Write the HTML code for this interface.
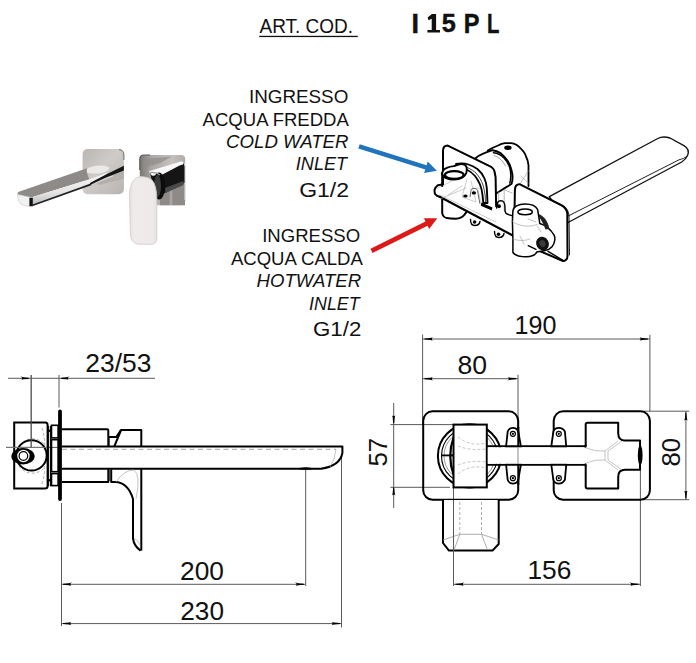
<!DOCTYPE html>
<html><head><meta charset="utf-8"><style>
html,body{margin:0;padding:0;background:#fff;width:696px;height:663px;overflow:hidden}
svg{display:block}
text{font-family:"Liberation Sans",sans-serif;fill:#111}
.it{font-style:italic}
</style></head><body>
<svg width="696" height="663" viewBox="0 0 696 663">
<rect width="696" height="663" fill="#fff"/>
<!-- header -->
<text x="259.5" y="32.8" font-size="20" textLength="93.5" lengthAdjust="spacingAndGlyphs">ART. COD.</text>
<rect x="259.2" y="35.8" width="98.6" height="1.3" fill="#111"/>
<g font-weight="bold" stroke="#111" stroke-width="0.45">
<text x="411.61" y="32.6" font-size="27.1" textLength="7.47" lengthAdjust="spacingAndGlyphs">I</text>
<text x="441.71" y="32.4" font-size="26.65" textLength="14.07" lengthAdjust="spacingAndGlyphs">5</text>
<text x="463.83" y="32.6" font-size="27.1" textLength="15.71" lengthAdjust="spacingAndGlyphs">P</text>
<text x="487.05" y="32.6" font-size="27.1" textLength="12.37" lengthAdjust="spacingAndGlyphs">L</text>
</g>
<path d="M431.9 14H436.1V30H440V32.6H427.4V30H431.7V18.8L428.5 20.2L427.6 17.5Z" fill="#111"/>

<!-- labels group 1 -->
<g font-size="17.5">
<text x="248.95" y="103.4" textLength="99.37" lengthAdjust="spacingAndGlyphs">INGRESSO</text>
<text x="202.6" y="125.8" textLength="146.28" lengthAdjust="spacingAndGlyphs">ACQUA FREDDA</text>
<text x="226.14" y="148.2" class="it" textLength="122.33" lengthAdjust="spacingAndGlyphs">COLD WATER</text>
<text x="295.87" y="170" class="it" textLength="51.1" lengthAdjust="spacingAndGlyphs">INLET</text>
<text x="299.2" y="196.7" font-size="21" textLength="49.87" lengthAdjust="spacingAndGlyphs">G1/2</text>
</g>
<g font-size="17.5">
<text x="262.18" y="242.2" textLength="97.93" lengthAdjust="spacingAndGlyphs">INGRESSO</text>
<text x="230.9" y="264.9" textLength="132.01" lengthAdjust="spacingAndGlyphs">ACQUA CALDA</text>
<text x="256.54" y="287.4" class="it" textLength="104.61" lengthAdjust="spacingAndGlyphs">HOTWATER</text>
<text x="309.08" y="309.9" class="it" textLength="50.5" lengthAdjust="spacingAndGlyphs">INLET</text>
<text x="313.04" y="336" font-size="21" textLength="48.28" lengthAdjust="spacingAndGlyphs">G1/2</text>
</g>

<!-- side view (bottom-left) -->
<g id="side">
<!-- dimension/extension lines -->
<g stroke="#5a5a5a" stroke-width="1" fill="none">
<path d="M8 378.3H155"/>
<path d="M31.2 375V447.6"/>
<path d="M59 375V407.5"/>
<path d="M61.5 503V626"/>
<path d="M61.5 584.3H305.7"/>
<path d="M61.5 623.6H341.5"/>
<path d="M305.7 469V586"/>
<path d="M341.5 454V627.5"/>
<path d="M6 447.4H62"/>
</g>
<g fill="#000">
<path d="M28.8 377.8L23.4 377.3L21.0 376.6L20.2 376.4A1.9 1.9 0 0 1 20.2 380.2L21.0 380.0L23.4 379.3L28.8 378.9Z"/>
<path d="M61.3 378.9L66.6 379.3L69.1 380.0L69.8 380.2A1.9 1.9 0 0 1 69.8 376.4L69.1 376.6L66.6 377.3L61.3 377.8Z"/>
<path d="M63.0 584.8L68.8 585.3L71.4 586.0L72.3 586.2A1.9 1.9 0 0 1 72.3 582.4L71.4 582.6L68.8 583.3L63.0 583.8Z"/>
<path d="M63.0 624.1L68.8 624.6L71.4 625.3L72.3 625.5A1.9 1.9 0 0 1 72.3 621.7L71.4 621.9L68.8 622.6L63.0 623.1Z"/>
<path d="M304.0 583.8L298.2 583.3L295.6 582.6L294.7 582.4A1.9 1.9 0 0 1 294.7 586.2L295.6 586.0L298.2 585.3L304.0 584.8Z"/>
<path d="M340.0 623.1L334.2 622.6L331.6 621.9L330.7 621.7A1.9 1.9 0 0 1 330.7 625.5L331.6 625.3L334.2 624.6L340.0 624.1Z"/>
</g>
<!-- left body -->
<g stroke="#000" stroke-width="2" fill="none">
<path d="M14.2 422.5H45.5Q47.6 422.5 47.6 425V486Q47.6 488.6 45 488.6H14.2Z"/>
</g>
<g stroke="#999" stroke-width="0.8" fill="none" stroke-dasharray="3 2">
<path d="M19 446A16 16 0 0 1 45 445"/>
<path d="M19 466A16 16 0 0 0 45 467"/>
<path d="M42 428Q46 440 44 452"/>
<path d="M42 484Q46 472 44 460"/>
</g>
<circle cx="31.5" cy="455.4" r="15.2" fill="none" stroke="#000" stroke-width="2"/>
<path d="M6 447.4H47" stroke="#777" stroke-width="1"/>
<ellipse cx="23" cy="456.3" rx="11.6" ry="8.2" fill="#000"/>
<circle cx="23.4" cy="456" r="6.2" fill="#fff"/>
<circle cx="23.4" cy="456" r="4.3" fill="none" stroke="#000" stroke-width="1.2"/>
<circle cx="23.4" cy="456" r="2.2" fill="#fff"/>
<path d="M31.2 375V447.6" stroke="#5a5a5a" stroke-width="1"/>
<g stroke="#000" stroke-width="1.1" fill="none">
<path d="M48.3 425.9V486.2M50.4 425.9V486.2"/>
</g>
<circle cx="49.2" cy="430.7" r="1.2" fill="#000"/>
<circle cx="49.2" cy="480.2" r="1.2" fill="#000"/>
<g stroke="#000" stroke-width="1.6" fill="none">
<rect x="51.5" y="425.3" width="6.6" height="12.6"/>
<rect x="51.5" y="439.7" width="6.6" height="32"/>
<rect x="51.5" y="473.6" width="6.6" height="12"/>
</g>
<path d="M60 411.5V499" stroke="#000" stroke-width="3.8" stroke-linecap="round"/>
<!-- blocks and spout -->
<g stroke="#000" stroke-width="2" fill="none" stroke-linejoin="round">
<path d="M62 429.2H107.3Q108.3 429.2 108.3 430.5V446.4"/>
<path d="M62 482H108.3V468.7"/>
<path d="M62 446.4H342.4V453Q340 466 321 468.7H62"/>
<path d="M108.3 437.1H116.3L120.9 430H141.3V446.4"/>
<path d="M120.9 430.5L114.3 446.4"/>
<path d="M111.2 469V481.9H116.4C123 482.3 130 488 133 499V538.5Q134 546 140.6 550.6"/>
<path d="M141.3 468.7V550.6"/>
</g>
<g stroke="#333" stroke-width="1" fill="none">
<path d="M109.3 437.5V446M109.3 469V481"/>
<path d="M110.6 469V481"/>
</g>
<path d="M296 468.7Q305.7 465.6 315 468.7Q305.7 471 296 468.7Z" fill="#000"/>
<path d="M62 449.3H336" stroke="#999" stroke-width="0.9" stroke-dasharray="5 3.5" fill="none"/>
<g stroke="#aaa" stroke-width="0.7" fill="none">
<path d="M116 482Q124 470 134 470Q141 475 136 499"/>
<path d="M336 449Q335 460 330 467"/>
<path d="M134 538Q138 540 140 545"/>
</g>
</g>

<!-- plan view (bottom-right) -->
<g id="plan">
<g stroke="#5a5a5a" stroke-width="1" fill="none">
<path d="M422.6 334.5V424M422.6 339H649.9M422.6 378.7H518M518 374.7V446"/>
<path d="M649.9 334.8V411.2M641 411.2H689.2M643 499.7H689.2M685.9 411.2V499.7"/>
<path d="M393.7 403V508M390.4 424.6H453.5M390.4 487.3H450"/>
<path d="M453.5 487.3V586M640.4 470V586M453.5 584.3H640.4"/>
</g>
<g fill="#000">
<path d="M424.5 339.6L430.3 340.0L432.9 340.7L433.8 340.9A1.9 1.9 0 0 1 433.8 337.1L432.9 337.3L430.3 338.0L424.5 338.4Z"/>
<path d="M648.0 338.4L642.2 338.0L639.6 337.3L638.7 337.1A1.9 1.9 0 0 1 638.7 340.9L639.6 340.7L642.2 340.0L648.0 339.6Z"/>
<path d="M424.5 379.2L430.3 379.7L432.9 380.4L433.8 380.6A1.9 1.9 0 0 1 433.8 376.8L432.9 377.0L430.3 377.7L424.5 378.1Z"/>
<path d="M516.2 378.1L510.4 377.7L507.8 377.0L506.9 376.8A1.9 1.9 0 0 1 506.9 380.6L507.8 380.4L510.4 379.7L516.2 379.2Z"/>
<path d="M394.2 423.2L394.7 417.6L395.4 415.0L395.6 414.2A1.9 1.9 0 0 1 391.8 414.2L392.0 415.0L392.7 417.6L393.1 423.2Z"/>
<path d="M393.1 487.5L392.7 493.1L392.0 495.6L391.8 496.4A1.9 1.9 0 0 1 395.6 496.4L395.4 495.6L394.7 493.1L394.2 487.5Z"/>
<path d="M685.4 412.5L684.9 418.2L684.2 420.7L684.0 421.6A1.9 1.9 0 0 1 687.8 421.6L687.6 420.7L686.9 418.2L686.4 412.5Z"/>
<path d="M686.4 498.5L686.9 492.8L687.6 490.3L687.8 489.4A1.9 1.9 0 0 1 684.0 489.4L684.2 490.3L684.9 492.8L685.4 498.5Z"/>
<path d="M455.4 584.8L461.2 585.3L463.8 586.0L464.7 586.2A1.9 1.9 0 0 1 464.7 582.4L463.8 582.6L461.2 583.3L455.4 583.8Z"/>
<path d="M638.6 583.8L632.8 583.3L630.2 582.6L629.3 582.4A1.9 1.9 0 0 1 629.3 586.2L630.2 586.0L632.8 585.3L638.6 584.8Z"/>
</g>
<!-- boxes -->
<g stroke="#000" stroke-width="2" fill="none" stroke-linejoin="round">
<rect x="423.2" y="411.3" width="95" height="88.5" rx="9.5"/>
<rect x="553.7" y="411.3" width="96.2" height="88.5" rx="9.5"/>
</g>
<!-- circles behind left valve -->
<g fill="none" stroke="#000">
<circle cx="469.5" cy="455.9" r="31.6" stroke-width="2"/>
<circle cx="469.5" cy="455.9" r="28" stroke-width="1.1"/>
<circle cx="469.5" cy="455.9" r="25.5" stroke-width="0.6" stroke="#555"/>
<path d="M453.5 437.5Q447 456 453.5 474.5" stroke-width="2.2"/>
<path d="M441 455.4H454" stroke-width="1.8"/>
</g>
<!-- stub below -->
<g stroke="#000" stroke-width="2" fill="#fff" stroke-linejoin="round">
<path d="M443 500V543L449 550.6H492.5L498.7 544V500"/>
</g>
<g stroke="#999" stroke-width="0.8" fill="none">
<path d="M443 540L459.8 534.3H481.5L498.7 540"/>
<path d="M459.8 534.3L454 550M481.5 534.3L487.5 550"/>
</g>
<path d="M459.8 502V534M481.5 502V534" stroke="#999" stroke-width="0.8" stroke-dasharray="3 2"/>
<path d="M453.5 500V586" stroke="#5a5a5a" stroke-width="1"/>
<!-- inner rect left -->
<rect x="453.5" y="424.6" width="33.3" height="62.8" fill="#fff" stroke="#000" stroke-width="2"/>
<path d="M450 455.4H454" stroke="#000" stroke-width="1.8"/>
<!-- ears -->
<g stroke="#000" stroke-width="1.8" fill="#fff" stroke-linejoin="round">
<path d="M506 447L507.7 431.5Q509 427.8 512.9 427.8Q516.8 427.8 518.3 431.5L521 447Z"/>
<path d="M506 464L507.7 479.8Q509 483.6 512.9 483.6Q516.8 483.6 518.3 479.8L521 464Z"/>
<path d="M551.2 447L553.4 431.5Q554.6 427.8 558.8 427.8Q562.8 427.8 564.9 431.5L566.3 447Z"/>
<path d="M551.2 464L553.4 479.8Q554.6 483.6 558.8 483.6Q562.8 483.6 564.9 479.8L566.3 464Z"/>
</g>
<g stroke="#000" stroke-width="1.2" fill="#fff">
<circle cx="512.9" cy="433.8" r="2.5"/>
<circle cx="512.9" cy="478.2" r="2.5"/>
<circle cx="558.8" cy="433.8" r="2.5"/>
<circle cx="558.8" cy="478.2" r="2.5"/>
</g>
<g fill="#000">
<circle cx="512.9" cy="433.8" r="1.1"/>
<circle cx="512.9" cy="478.2" r="1.1"/>
<circle cx="558.8" cy="433.8" r="1.1"/>
<circle cx="558.8" cy="478.2" r="1.1"/>
</g>
<path d="M518.3 427V446M518.3 465V485" stroke="#000" stroke-width="2"/>
<!-- cross shape right -->
<path d="M585.7 446.3V424.5Q585.7 422.8 587.5 422.8H618.2V433Q618.2 440.6 625 440.6H640V469.8H625Q618.2 469.8 618.2 477V488.5H587.5Q585.7 488.5 585.7 486.8V465" fill="#fff" stroke="#000" stroke-width="2" stroke-linejoin="round"/>
<!-- bar -->
<path d="M486.8 446.3H586.5M486.8 464.8H586.5" stroke="#000" stroke-width="2"/>
<rect x="487.8" y="447.3" width="97.8" height="16.5" fill="#fff"/>
<path d="M518 447V464" stroke="#888" stroke-width="1"/>
<ellipse cx="640.2" cy="455.3" rx="2.4" ry="10" fill="#000"/>
<path d="M583.5 446.3Q585.7 446.3 585.7 444V447.3Z M583.5 464.8Q585.7 464.8 585.7 467V463.8Z" fill="#000" stroke="#000" stroke-width="1"/>
<!-- hidden lines -->
<g stroke="#aaa" stroke-width="0.7" fill="none" stroke-dasharray="3 2">
<path d="M458 437Q470 447 486 443"/>
<path d="M458 474Q470 464 486 468"/>
<path d="M458 446Q470 451 486 449"/>
<path d="M458 465Q470 460 486 462"/>
</g>
<g stroke="#aaa" stroke-width="0.7" fill="none">
<path d="M586 448Q596 452 605 451L618 441"/>
<path d="M586 463Q596 459 605 460L618 470"/>
<path d="M605 451V460M608 451V460"/>
<path d="M608 451L622 441M608 460L622 470"/>
</g>
</g>

<!-- product photo -->
<defs>
<linearGradient id="gPlate1" x1="0" y1="0" x2="1" y2="1">
<stop offset="0" stop-color="#b9b5b3"/><stop offset="0.45" stop-color="#cfcbc9"/><stop offset="1" stop-color="#b7b3b1"/>
</linearGradient>
<linearGradient id="gPlate2" x1="0" y1="0" x2="1" y2="0">
<stop offset="0" stop-color="#7a7674"/><stop offset="0.25" stop-color="#aaa6a4"/><stop offset="0.7" stop-color="#c4c0be"/><stop offset="1" stop-color="#b0acaa"/>
</linearGradient>
<linearGradient id="gLever" x1="0" y1="0" x2="1" y2="0">
<stop offset="0" stop-color="#e2dfde"/><stop offset="0.15" stop-color="#eeebea"/><stop offset="0.85" stop-color="#edeae9"/><stop offset="1" stop-color="#e4e1e0"/>
</linearGradient>
<linearGradient id="gFront" x1="0" y1="0" x2="0" y2="1">
<stop offset="0" stop-color="#f4f3f3"/><stop offset="0.6" stop-color="#e6e5e5"/><stop offset="1" stop-color="#bdbbbb"/>
</linearGradient>
</defs>
<g id="photo">
<!-- spout wall plate -->
<rect x="82.6" y="149" width="41.3" height="45.3" rx="5" fill="url(#gPlate1)"/>
<path d="M119 149.6Q123.9 150 123.9 155V160" fill="none" stroke="#6f6b69" stroke-width="1"/>
<path d="M92 181L123.9 170V179Q110 182 100 185Z" fill="#b3afad"/>
<path d="M95 183L113 175.7" stroke="#e0dedd" stroke-width="1.2"/>
<ellipse cx="97.5" cy="169.6" rx="12" ry="3.8" transform="rotate(-6 97.5 169.6)" fill="#ebe9e8"/>
<!-- spout -->
<path d="M17.5 194.5Q17 192.3 20.3 191.2L87 168.2Q86 173 89.5 179.2L31 197.5Z" fill="#8d8a88"/>
<path d="M31 197.5L89.5 179.2L107 172.8L106 174.5L90.5 183.2L33 205Z" fill="url(#gFront)"/>
<path d="M17.5 194.5L31 197.5L31.5 206.3Q24 206.5 20 203.5Q18 201.5 17.5 194.5Z" fill="#f2f1f1" stroke="#c9c7c7" stroke-width="0.6"/>
<rect x="29.4" y="197.8" width="3.4" height="8.4" fill="#111"/>
<path d="M32 205.5L91 184.3" stroke="#222" stroke-width="1.8" fill="none"/>
<path d="M90 183L106.5 174.3L123.9 165.7V170.4L106 177.6L90 184.9Z" fill="#141414"/>
<!-- mixer wall plate -->
<rect x="139.8" y="155" width="45.4" height="50.3" rx="4" fill="url(#gPlate2)"/>
<path d="M139.8 170V159Q139.8 155 144 155H150" fill="none" stroke="#5e5a58" stroke-width="1.2"/>
<path d="M143 159L172 156.5L160 163L143 168Z" fill="#8f8b89" opacity="0.7"/>
<path d="M160 192L185 184V205.3H160Z" fill="#8e8a88"/>
<rect x="169.6" y="190" width="2.8" height="15" fill="#a8a5a4"/>
<path d="M181 163Q185.2 163 185.2 168V200" fill="none" stroke="#e6e4e4" stroke-width="1.4"/>
<!-- mixer cylinder -->
<path d="M150 172L181.4 161.8Q184.5 163 184.5 167V183L165 193L155 197Z" fill="#151515"/>
<path d="M148.8 171.2L181.4 161.2Q184 161.8 183 164.5L179.6 165.4L161.5 174.9L152 175.8Z" fill="#f7f7f7"/>
<path d="M165 188L183.5 181V185L165.5 193Z" fill="#4a4a4a"/>
<ellipse cx="159" cy="186" rx="6.2" ry="13.4" fill="#0c0c0c"/>
<ellipse cx="157.5" cy="186" rx="3.5" ry="11" fill="#3a3a3a"/>
<path d="M150 172.5Q156 171.5 160 175" stroke="#9a9a9a" stroke-width="1.2" fill="none"/>
<!-- lever -->
<path d="M129.5 195Q129.8 185 133 181Q136 176.6 141 176.6Q148 176.8 152 180Q156.5 185 156.8 198V238Q156.8 244.3 150.5 244.3H139Q134 244 131.5 240Q130.5 237 130.3 232Z" fill="url(#gLever)" stroke="#cfcccb" stroke-width="0.8"/>
</g>

<!-- arrows -->
<path d="M358.3 148.5 L425.3 169.4 L424.1 173.0 L436.9 170.7 L427.7 161.5 L426.6 165.2 L359.7 144.3Z" fill="#1f74bb"/>
<path d="M372.5 252.9 L427.6 225.7 L429.2 229.0 L437.3 218.3 L423.9 218.2 L425.5 221.6 L370.5 248.7Z" fill="#dc1a1a"/>

<!-- perspective view -->
<g id="persp" stroke-linejoin="round" stroke-linecap="round">
<!-- spout -->
<path d="M549.3 196.6L657.8 138.5C661 136.8 666 136.8 670 138L683.9 145.6C688 148 689 152 687.5 155.5C686 159 684 160.5 681.7 162L568 222.5Z" fill="#fff" stroke="#111" stroke-width="1.35"/>
<path d="M567.8 216.2L679 159.8C682 159 685.5 158 687.3 156" fill="none" stroke="#222" stroke-width="1"/>
<!-- valve body dome (back) -->
<path d="M487.8 150.6C492 148 495 146.5 498.1 145.5C500 144.3 502 143.3 505 143.1H511.2C514.5 143.4 517.5 145 519.6 147.4C523 150.5 525.2 153.5 526.1 156.7C527.6 159.5 528.3 162 528.5 165.1V186H500Z" fill="#fff"/>
<path d="M487.8 150.6C492 148 495 146.5 498.1 145.5C500 144.3 502 143.3 505 143.1H511.2C514.5 143.4 517.5 145 519.6 147.4C523 150.5 525.2 153.5 526.1 156.7C527.6 159.5 528.3 162 528.5 165.1V186" fill="none" stroke="#000" stroke-width="1.8"/>
<ellipse cx="507.9" cy="147.8" rx="3.7" ry="2.2" fill="#000"/>
<path d="M528.3 171L520 184M521 176L528.3 183" stroke="#999" stroke-width="0.6" fill="none"/>
<!-- cartridge cylinder -->
<path d="M475.5 158.2Q480 154.2 492.5 150.2C496 150.5 498.5 151.8 500.9 153.4C503.5 155.5 505.5 157.8 507.4 160.5C509.3 163.3 510.5 166 511.2 168.9C512 171.8 512.6 174.5 512.6 177.3C512.5 179.8 512.2 182 511.6 183.8C509.5 185.5 507.5 186.5 505.5 187.6L498.1 192.3L494 195Z" fill="#fff" stroke="#000" stroke-width="1.9"/>
<path d="M493.5 152.8C498 153.2 501.5 155.5 504 158C506.5 160.5 508.3 163.5 509.5 166.8C510.5 170 511 173 510.8 176.5C510.7 179 510.4 181 509.8 183" fill="none" stroke="#000" stroke-width="1.5"/>
<path d="M494 155.5C499 157 503 161 505.5 166" fill="none" stroke="#777" stroke-width="0.7"/>
<path d="M498.6 192V203M504.2 190V215M505.4 190.1L512.2 193.1" stroke="#999" stroke-width="0.7" fill="none"/>
<!-- left plate -->
<path d="M443 151Q443 145.6 447.8 145.6L488.6 165.7Q493.9 168 494.5 171.5L495.6 177.3L496.2 210H443Z" fill="#fff" stroke="#000" stroke-width="2"/>
<!-- right plate -->
<path d="M514.9 190Q514.9 184.4 519.5 184.2L561 205Q567 208 567.3 214L567.5 256Q567.3 260.8 563 261L514 240Z" fill="#fff" stroke="#000" stroke-width="2"/>
<path d="M564.5 206.8Q568.5 209.5 569 215L569.5 255" fill="none" stroke="#000" stroke-width="0.9"/>
<!-- cold inlet pipe (lower) -->
<path d="M442.2 195V213C442.5 215.5 444.5 217.5 446.8 218.1C450 218.8 453 218.8 455.9 218.8C459.5 218.5 462.5 217 464.3 214.9L466.2 212.3" fill="#fff" stroke="#000" stroke-width="2"/>
<!-- manifold -->
<path d="M442.2 184.5L437.8 185.2C435.5 187 434.5 188.5 434.5 190.3C434.5 192 434.7 193.5 435.2 194.2C436.5 195.8 438 196.5 439.7 196.8L519.2 238.8L514 216L497 207.5Z" fill="#fff" stroke="none"/>
<path d="M442.2 184.5L437.8 185.2C435.5 187 434.5 188.5 434.5 190.3C434.5 192 434.7 193.5 435.2 194.2C436.5 195.8 438 196.5 439.7 196.8" fill="none" stroke="#000" stroke-width="2"/>
<path d="M439.7 196.8L519.2 238.8" fill="none" stroke="#000" stroke-width="2.2"/>
<path d="M440 195L496 222M437 188.5L452 181" fill="none" stroke="#aaa" stroke-width="0.6"/>
<!-- band arc -->
<path d="M456 164C462 162.5 470 164 477.4 169C481 172 483 175 484.5 178.5C486 182 486.5 185 486.8 188L487.5 203L483.3 203L482.5 195C482 190 481 187 480 184.5C478.5 181 477 178.5 475 176C472 172.5 469 170.5 465.6 169Z" fill="#fff" stroke="#000" stroke-width="1.9"/>
<path d="M461 166C467 166.5 472 169.5 476 173C479 176.5 481.5 180.5 483 185C484 188.5 484.8 192 485.2 196L485.5 202" fill="none" stroke="#333" stroke-width="0.9"/>
<!-- cold inlet top -->
<path d="M442.2 173V186" fill="none" stroke="#000" stroke-width="2"/>
<path d="M442.2 174C442.2 171 444 169 446.7 167.9C449 166.8 451.5 166.3 453.8 166.1C456 165.5 458 164.5 460 164.2C463 163.8 465.5 164.5 466.5 167C467 169 466.8 171 466.3 173C465 177 460 179.5 454.3 179.5C448 179.5 442.5 177.5 442.2 174Z" fill="#fff" stroke="#000" stroke-width="1.9"/>
<ellipse cx="454.3" cy="175" rx="9.4" ry="3.9" fill="#fff" stroke="#000" stroke-width="2.4"/>
<!-- inner details on manifold near cold -->
<g stroke="#aaa" stroke-width="0.6" fill="none">
<path d="M467 179L462 197L476 202L471 181"/>
<path d="M448 195L462 186M440 199L466 188"/>
<path d="M478 190L481 203M470 189L480 188"/>
</g>
<ellipse cx="465.4" cy="196" rx="2.2" ry="1.6" fill="#000"/>
<ellipse cx="473.9" cy="192.9" rx="2.2" ry="1.6" fill="#000"/>
<path d="M470.1 196.8L471 190.5C472 187.5 476 187.5 477.5 190.5L479.8 203.3" fill="none" stroke="#555" stroke-width="0.9"/>
<path d="M481.4 202.6L492.5 207.4L491.8 210.5L480.8 205.8Z" fill="#000"/>
<!-- ear near right plate -->
<path d="M496.5 208L497.8 202.2C498.8 200.5 502.5 200 504 202.5C504.8 204 505 206 505 208L505 211.2C505.5 213 506.5 214 507.6 214.3L512.9 215.8" fill="none" stroke="#000" stroke-width="1.4"/>
<circle cx="498.9" cy="206.3" r="2" fill="#000"/>
<!-- lugs under manifold -->
<path d="M470.5 219.5C470.5 223.5 472.5 225.5 475 225.5C477.5 225.5 479.5 224 480 221.5" fill="#fff" stroke="#000" stroke-width="1.4"/>
<circle cx="474.6" cy="222" r="1.8" fill="#000"/>
<path d="M494.5 231.5C494.5 235.5 496.5 237.5 499 237.5C501.5 237.5 503.5 236 504 233.5" fill="#fff" stroke="#000" stroke-width="1.4"/>
<circle cx="498.5" cy="234.2" r="1.8" fill="#000"/>
<!-- hot valve body -->
<path d="M512.9 210.8C513.5 207 518 204 525.1 204C531 204 536 206 537.7 209.8L539.8 223.5C545 225 551 230 554.1 235.1C555.5 238 555 243 552 246.7C550 249 548 250 545 250.5L536.7 252C536 255 531 256.8 526.1 256.8C520 256.8 515 255.5 512.9 252.5L512.9 239.3L512.4 221.4Z" fill="#fff" stroke="#000" stroke-width="1.5"/>
<ellipse cx="525.1" cy="211.9" rx="7.2" ry="2.8" fill="#fff" stroke="#000" stroke-width="1.5"/>
<path d="M538.8 214C544 216 548.5 222 549.3 228.8L545.5 229.5C544 225 541.5 220 538.8 217Z" fill="#222"/>
<g stroke="#999" stroke-width="0.6" fill="none">
<path d="M512.5 221.5C518 226 530 228 538 224M513 239C519 241 525 241 530 239M520 236L524 244M537 226L541 232M528 219L536 222"/>
</g>
<ellipse cx="542.5" cy="243.6" rx="6.2" ry="7" transform="rotate(-30 542.5 243.6)" fill="#111"/>
<ellipse cx="542.5" cy="243.6" rx="3" ry="3.5" transform="rotate(-30 542.5 243.6)" fill="#3a3a3a"/>
<path d="M528.2 245.7L536 249.3M548 251.3L564.1 261" fill="none" stroke="#000" stroke-width="1.4"/>
</g>

<!-- dimension texts -->
<g font-size="26">
<text x="85.28" y="372" textLength="66.11" lengthAdjust="spacingAndGlyphs">23/53</text>
<text x="180.09" y="580.3" textLength="43.91" lengthAdjust="spacingAndGlyphs">200</text>
<text x="180.29" y="619.8" textLength="43.7" lengthAdjust="spacingAndGlyphs">230</text>
<text x="514.47" y="333.6" textLength="41.91" lengthAdjust="spacingAndGlyphs">190</text>
<text x="457.58" y="374.1" textLength="29.56" lengthAdjust="spacingAndGlyphs">80</text>
<text x="527.48" y="578.6" textLength="43.93" lengthAdjust="spacingAndGlyphs">156</text>
<text transform="translate(387.3 466.6) rotate(-90)" textLength="28.81" lengthAdjust="spacingAndGlyphs">57</text>
<text transform="translate(679.7 466.6) rotate(-90)" textLength="28.71" lengthAdjust="spacingAndGlyphs">80</text>
</g>
</svg>
</body></html>
